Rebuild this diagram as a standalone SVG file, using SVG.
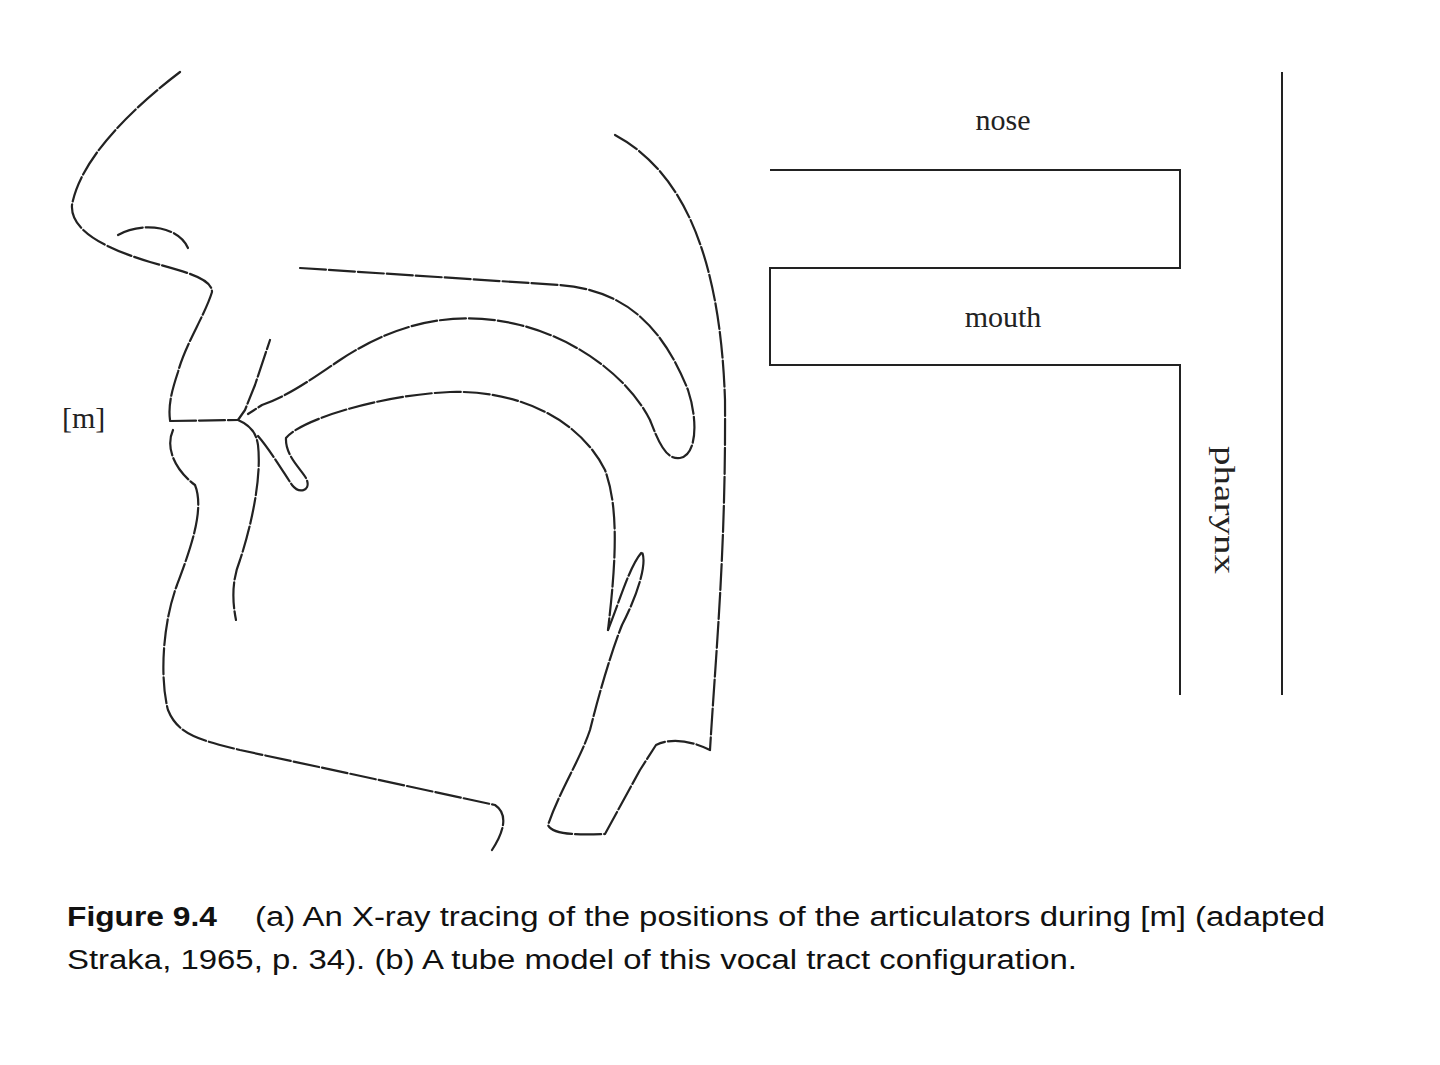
<svg xmlns="http://www.w3.org/2000/svg" width="1440" height="1065" viewBox="0 0 1440 1065">
<style>
.t{fill:none;stroke:#222;stroke-width:2.2;stroke-linecap:round;stroke-linejoin:round;stroke-dasharray:26 3}
.w{fill:none;stroke:#222;stroke-width:2}
.lbl{font-family:"Liberation Serif",serif;font-size:30px;fill:#222}
.cap{font-family:"Liberation Sans",sans-serif;font-size:27px;fill:#111}
</style>
<rect width="1440" height="1065" fill="#fff"/>
<g id="tracing">
<path class="t" d="M180,72 C130,110 80,160 72,205 C70,232 110,250 150,262 C185,272 212,278 212,292 C205,315 185,345 178,372 C172,390 168,405 170,420"/>
<path class="t" d="M118,235 C140,222 178,225 188,248"/>
<path class="t" d="M170,421 L238,420 L245,410 L255,385 L270,340"/>
<path class="t" d="M173,430 C165,448 175,470 195,485 C205,510 190,550 177,585 C162,625 160,680 168,710 C178,735 200,740 240,750 L495,805 C510,815 502,835 492,850"/>
<path class="t" d="M238,420 C250,425 256,432 258,445 C262,480 250,530 240,560 C232,580 232,600 236,620"/>
<path class="t" d="M300,268 L560,285 C620,290 660,320 688,390 C698,420 697,455 680,458 C665,460 658,440 650,420 C630,380 580,340 520,325 C460,310 400,320 340,360 C310,380 290,395 262,405 L248,414"/>
<path class="t" d="M258,436 C270,450 282,470 292,485 C300,495 312,490 306,478 C300,468 285,455 286,438 C300,420 380,395 450,392 C520,390 580,420 605,470 C620,510 615,570 608,630"/>
<path class="t" d="M608,630 C620,600 630,565 642,552 C648,565 635,600 622,625 C612,650 600,690 590,730 C580,760 560,790 548,825 C552,835 580,835 605,834 L640,770 L656,745 C670,738 690,740 710,750"/>
<path class="t" d="M615,135 C680,170 720,250 725,400 C726,550 716,650 710,750"/>
<text class="lbl" x="62" y="428">[m]</text>
</g>
<g id="tube">
<path class="w" d="M770,170 H1180 V268 H770 V365 H1180 V695"/>
<path class="w" d="M1282,72 V695" stroke-width="3"/>
<text class="lbl" x="1003" y="130" text-anchor="middle">nose</text>
<text class="lbl" x="1003" y="327" text-anchor="middle">mouth</text>
<text class="lbl" transform="translate(1215,510) rotate(90)" text-anchor="middle" textLength="128" lengthAdjust="spacingAndGlyphs">pharynx</text>
</g>
<g id="caption">
<text class="cap" x="67" y="926" font-weight="bold" textLength="150" lengthAdjust="spacingAndGlyphs">Figure 9.4</text>
<text class="cap" x="255" y="926" textLength="1070" lengthAdjust="spacingAndGlyphs">(a) An X-ray tracing of the positions of the articulators during [m] (adapted</text>
<text class="cap" x="67" y="969" textLength="1010" lengthAdjust="spacingAndGlyphs">Straka, 1965, p. 34). (b) A tube model of this vocal tract configuration.</text>
</g>
</svg>
